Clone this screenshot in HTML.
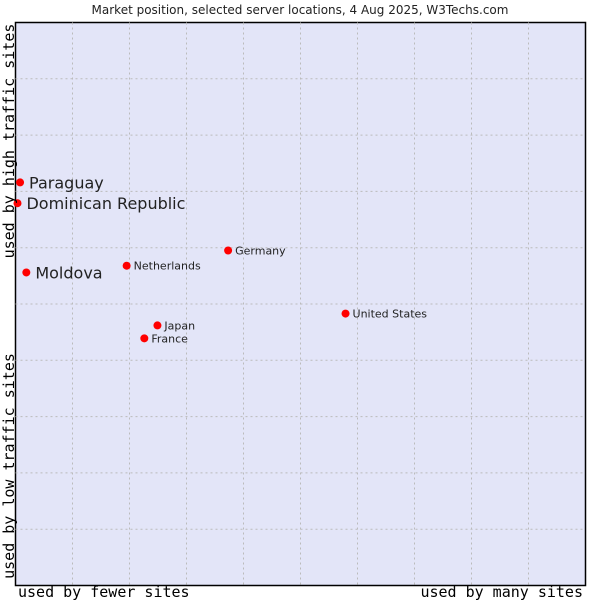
<!DOCTYPE html>
<html><head><meta charset="utf-8"><style>
body{margin:0;background:#fff;}
svg text{font-family:"DejaVu Sans","Liberation Sans",sans-serif;}
.mono{font-family:"DejaVu Sans Mono","Liberation Mono",monospace !important;font-size:15px;}
</style></head><body>
<svg width="600" height="600" viewBox="0 0 600 600">
<text x="300" y="14" text-anchor="middle" font-size="12" fill="#222">Market position, selected server locations, 4 Aug 2025, W3Techs.com</text>
<rect x="15.5" y="22.5" width="570" height="563" fill="#e3e5f8" stroke="#000" stroke-width="1.5"/>
<g id="grid"></g>
<g id="pts"></g>
<text class="mono" transform="translate(14,141) rotate(-90)" text-anchor="middle" fill="#000">used by high traffic sites</text>
<text class="mono" transform="translate(14,466) rotate(-90)" text-anchor="middle" fill="#000">used by low traffic sites</text>
<text class="mono" x="18" y="597" fill="#000">used by fewer sites</text>
<text class="mono" x="583" y="597" text-anchor="end" fill="#000">used by many sites</text>
</svg>
<script>
const names=["Paraguay","Dominican Republic","Moldova","Netherlands","Germany","United States","Japan","France"];
const xVals=[0.8,0.35,1.9,19.5,37.3,57.9,24.9,22.6];
const yVals=[71.6,67.9,55.6,56.8,59.5,48.3,46.2,43.9];
const highlight=[true,true,true,false,false,false,false,false];
const X0=15.5,X1=585.5,Y0=585.5,Y1=22.5;
const sx=v=>X0+(X1-X0)*v/100, sy=v=>Y0-(Y0-Y1)*v/100;
const NS="http://www.w3.org/2000/svg";
const g=document.getElementById('grid');
for(let i=1;i<10;i++){
  const v=document.createElementNS(NS,'line');
  v.setAttribute('x1',sx(i*10));v.setAttribute('x2',sx(i*10));v.setAttribute('y1',Y1);v.setAttribute('y2',Y0);
  v.setAttribute('stroke','#bbb');v.setAttribute('stroke-dasharray','2,3');
  
  
  g.appendChild(v);
  const h=document.createElementNS(NS,'line');
  h.setAttribute('y1',sy(i*10));h.setAttribute('y2',sy(i*10));h.setAttribute('x1',X0);h.setAttribute('x2',X1);
  h.setAttribute('stroke','#bbb');h.setAttribute('stroke-dasharray','2,3');
  
  
  g.appendChild(h);
}
const p=document.getElementById('pts');
names.forEach((n,i)=>{
  const cx=sx(xVals[i]),cy=sy(yVals[i]);
  const c=document.createElementNS(NS,'circle');
  c.setAttribute('cx',cx);c.setAttribute('cy',cy);c.setAttribute('r',4);c.setAttribute('fill','#f00');
  
  
  p.appendChild(c);
  const t=document.createElementNS(NS,'text');
  const big=highlight[i];
  t.setAttribute('x',cx+(big?9:7));t.setAttribute('y',cy+(big?6:4));
  t.setAttribute('font-size',big?16:11);t.setAttribute('fill','#222');
  t.textContent=n;
  
  
  p.appendChild(t);
});
</script>
</body></html>
